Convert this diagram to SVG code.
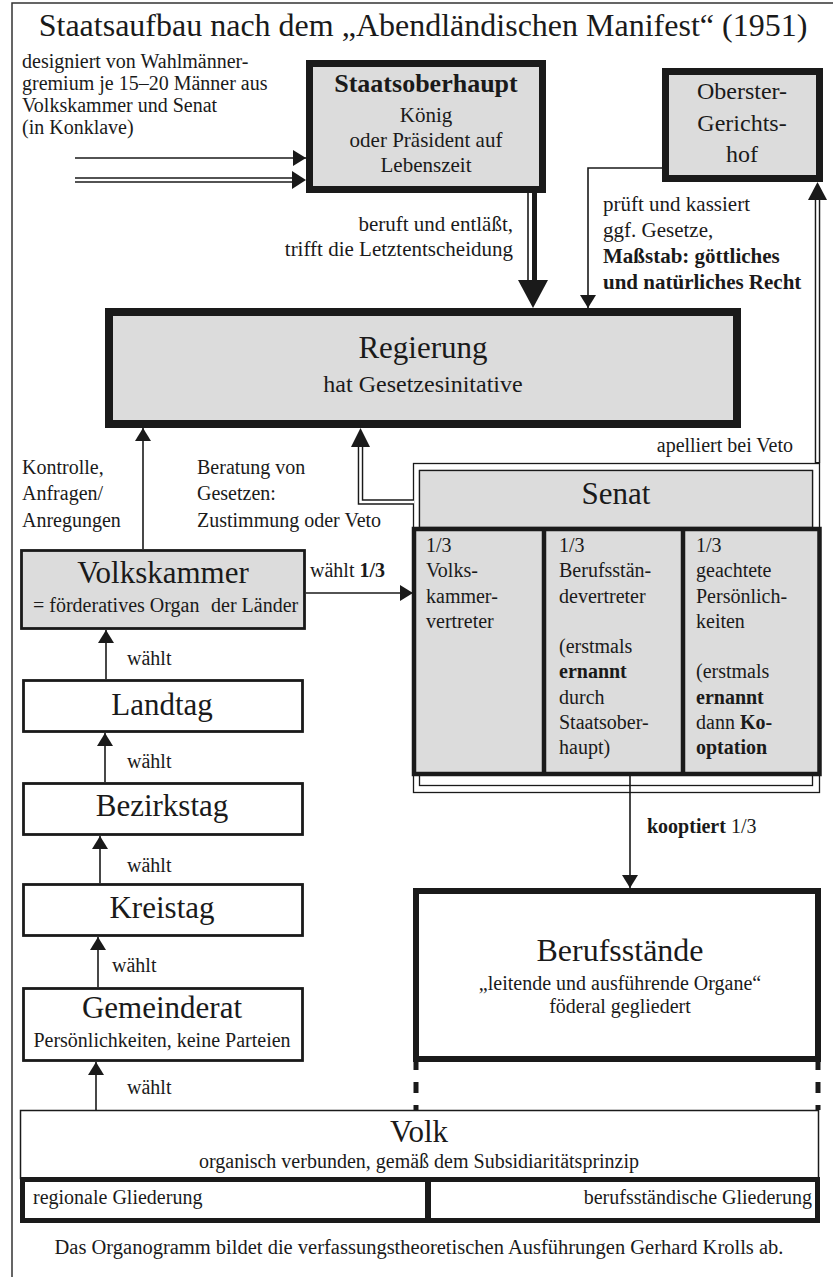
<svg xmlns="http://www.w3.org/2000/svg" width="833" height="1277" viewBox="0 0 833 1277">
<style>
text{font-family:'Liberation Serif','DejaVu Serif',serif;fill:#1a1a1a}
.a{font-size:20px}
.s{font-size:21px}
.n{font-size:31px}
.b{font-weight:bold}
.m{text-anchor:middle}
.e{text-anchor:end}
.ln{stroke:#1a1a1a;fill:none;stroke-width:1.6}
.gray{fill:#dcdcdc}
.box{stroke:#1a1a1a}
.dbl{stroke:#1a1a1a;stroke-width:5.5;fill:none}
.dblw{stroke:#fff;stroke-width:2.6;fill:none}
.ah{fill:#1a1a1a}
</style>
<defs>
<marker id="arr" viewBox="0 0 13 16" refX="13" refY="8" markerWidth="13" markerHeight="16" markerUnits="userSpaceOnUse" orient="auto">
<path d="M0,0 L13,8 L0,16 z" fill="#1a1a1a"/>
</marker>
</defs>
<rect width="833" height="1277" fill="#fff"/>
<path d="M12,1277 V3 H833" stroke="#333" stroke-width="1.5" fill="none"/>
<g font-family="Liberation Serif, DejaVu Serif, serif">
<text x="423" y="36" class="m" font-size="32">Staatsaufbau nach dem „Abendländischen Manifest“ (1951)</text>

<g id="wahl-text">
<text x="22" y="68" class="a">designiert von Wahlmänner-</text>
<text x="22" y="90" class="a">gremium je 15–20 Männer aus</text>
<text x="22" y="112" class="a">Volkskammer und Senat</text>
<text x="22" y="134" class="a">(in Konklave)</text>
</g>

<g id="staatsoberhaupt">
<rect x="309.5" y="63.5" width="233" height="126" class="gray box" stroke-width="7"/>
<text x="426" y="92" class="m b" font-size="26">Staatsoberhaupt</text>
<text x="426" y="122" class="m s">König</text>
<text x="426" y="147" class="m s">oder Präsident auf</text>
<text x="426" y="172" class="m s">Lebenszeit</text>
</g>

<g id="gerichtshof">
<rect x="665.5" y="71.5" width="154" height="107" class="gray box" stroke-width="7"/>
<text x="742" y="99" class="m" font-size="24">Oberster-</text>
<text x="742" y="130.5" class="m" font-size="24">Gerichts-</text>
<text x="742" y="162" class="m" font-size="24">hof</text>
</g>

<g id="regierung">
<rect x="109" y="312" width="628" height="112" class="gray box" stroke-width="8"/>
<text x="423" y="358" class="m n">Regierung</text>
<text x="423" y="392" class="m" font-size="24">hat Gesetzesinitative</text>
</g>

<g id="senat">
<rect x="413.5" y="463.5" width="406" height="329" fill="#fff" class="box" stroke-width="1.3"/>
<rect x="419.5" y="470.5" width="393" height="315" fill="none" class="box" stroke-width="1.3"/>
<rect x="419.5" y="470.5" width="393" height="57" class="gray box" stroke-width="1.3"/>
<text x="616" y="504" class="m n">Senat</text>
<rect x="414" y="529" width="405.5" height="245" class="gray box" stroke-width="4.5"/>
<line x1="544" y1="529" x2="544" y2="774" class="box" stroke-width="4.5"/>
<line x1="683" y1="529" x2="683" y2="774" class="box" stroke-width="4.5"/>
<g class="a">
<text x="426" y="552">1/3</text>
<text x="426" y="577">Volks-</text>
<text x="426" y="602.5">kammer-</text>
<text x="426" y="628">vertreter</text>
<text x="559" y="552">1/3</text>
<text x="559" y="577">Berufsstän-</text>
<text x="559" y="602.5">devertreter</text>
<text x="559" y="653">(erstmals</text>
<text x="559" y="678" class="b">ernannt</text>
<text x="559" y="703.5">durch</text>
<text x="559" y="729">Staatsober-</text>
<text x="559" y="754">haupt)</text>
<text x="696" y="552">1/3</text>
<text x="696" y="577">geachtete</text>
<text x="696" y="602.5">Persönlich-</text>
<text x="696" y="628">keiten</text>
<text x="696" y="678">(erstmals</text>
<text x="696" y="703.5" class="b">ernannt</text>
<text x="696" y="729">dann <tspan class="b">Ko-</tspan></text>
<text x="696" y="754" class="b">optation</text>
</g>
</g>

<g id="volkskammer">
<rect x="21.5" y="550.5" width="283" height="78" class="gray box" stroke-width="2.8"/>
<text x="163" y="583" class="m n">Volkskammer</text>
<text x="33" y="612" class="a">= förderatives Organ</text>
<text x="211" y="612" class="a">der Länder</text>
</g>

<g id="landtag">
<rect x="23.5" y="680.5" width="279" height="51" fill="#fff" class="box" stroke-width="2.8"/>
<text x="162" y="715" class="m n">Landtag</text>
</g>
<g id="bezirkstag">
<rect x="23.5" y="783.5" width="279" height="51" fill="#fff" class="box" stroke-width="2.8"/>
<text x="162" y="816" class="m n">Bezirkstag</text>
</g>
<g id="kreistag">
<rect x="23.5" y="884.5" width="279" height="51" fill="#fff" class="box" stroke-width="2.8"/>
<text x="162" y="918" class="m n">Kreistag</text>
</g>
<g id="gemeinderat">
<rect x="23.5" y="988.5" width="279" height="72" fill="#fff" class="box" stroke-width="2.8"/>
<text x="162" y="1018" class="m n">Gemeinderat</text>
<text x="162" y="1047" class="m a">Persönlichkeiten, keine Parteien</text>
</g>

<g id="berufsstaende">
<rect x="416" y="891" width="402" height="168" fill="#fff" class="box" stroke-width="6"/>
<text x="620" y="961" class="m" font-size="32">Berufsstände</text>
<text x="620" y="990" class="m a">„leitende und ausführende Organe“</text>
<text x="620" y="1013" class="m a">föderal gegliedert</text>
</g>

<g id="volk">
<rect x="20.5" y="1110.5" width="798" height="68" fill="#fff" class="box" stroke-width="1.5"/>
<text x="419" y="1142" class="m n">Volk</text>
<text x="419" y="1168" class="m a">organisch verbunden, gemäß dem Subsidiaritätsprinzip</text>
<rect x="22.5" y="1179.5" width="795" height="41" fill="#fff" class="box" stroke-width="5"/>
<line x1="428" y1="1179" x2="428" y2="1221" class="box" stroke-width="6"/>
<text x="33" y="1204" class="a">regionale Gliederung</text>
<text x="812" y="1204" class="a e">berufsständische Gliederung</text>
</g>

<text x="419" y="1254" class="m" font-size="20.5">Das Organogramm bildet die verfassungstheoretischen Ausführungen Gerhard Krolls ab.</text>

<g id="connectors">
<line x1="75" y1="158" x2="306" y2="158" class="ln" marker-end="url(#arr)"/>
<line x1="75" y1="180" x2="294" y2="180" class="dbl" stroke-width="4.5"/>
<line x1="75" y1="180" x2="294" y2="180" class="dblw" stroke-width="1.8"/>
<polygon points="292,171 306,180 292,189" class="ah"/>

<line x1="528" y1="193" x2="528" y2="282" class="ln" stroke-width="1.4"/>
<rect x="532" y="193" width="5" height="89" class="ah"/>
<polygon points="518,280 548,280 533,308" class="ah"/>
<text x="513" y="231" class="s e">beruft und entläßt,</text>
<text x="513" y="256" class="s e">trifft die Letztentscheidung</text>

<path d="M662,168 H588 V308" class="ln" stroke-width="1.8" marker-end="url(#arr)"/>
<text x="603" y="211" class="s">prüft und kassiert</text>
<text x="603" y="237" class="s">ggf. Gesetze,</text>
<text x="603" y="263" class="s b">Maßstab: göttliches</text>
<text x="603" y="289" class="s b">und natürliches Recht</text>

<path d="M817.5,463 V199" class="dbl" stroke-width="5"/>
<path d="M817.5,462 V198" class="dblw"/>
<polygon points="808,200 827,200 817.5,182" class="ah"/>
<text x="793" y="452" class="a e">apelliert bei Veto</text>

<path d="M413,502 H360.5 V446" class="dbl" stroke-width="5.5"/>
<path d="M414,502 H360.5 V445" class="dblw"/>
<polygon points="351,447 370,447 360.5,428" class="ah"/>

<line x1="143" y1="549" x2="143" y2="428" class="ln" marker-end="url(#arr)"/>
<text x="22" y="474" class="a">Kontrolle,</text>
<text x="22" y="500" class="a">Anfragen/</text>
<text x="22" y="527" class="a">Anregungen</text>
<text x="197" y="474" class="a">Beratung von</text>
<text x="197" y="500" class="a">Gesetzen:</text>
<text x="197" y="527" class="a">Zustimmung oder Veto</text>

<line x1="306" y1="593" x2="413" y2="593" class="ln" marker-end="url(#arr)"/>
<text x="310" y="577" class="a">wählt <tspan class="b">1/3</tspan></text>

<line x1="106" y1="679" x2="106" y2="630" class="ln" marker-end="url(#arr)"/>
<text x="127" y="665" class="a">wählt</text>
<line x1="105" y1="782" x2="105" y2="733" class="ln" marker-end="url(#arr)"/>
<text x="127" y="768" class="a">wählt</text>
<line x1="100" y1="883" x2="100" y2="836" class="ln" marker-end="url(#arr)"/>
<text x="127" y="872" class="a">wählt</text>
<line x1="98" y1="987" x2="98" y2="937" class="ln" marker-end="url(#arr)"/>
<text x="112" y="972" class="a">wählt</text>
<line x1="96" y1="1110" x2="96" y2="1062" class="ln" marker-end="url(#arr)"/>
<text x="127" y="1094" class="a">wählt</text>

<line x1="630" y1="776" x2="630" y2="888" class="ln" marker-end="url(#arr)"/>
<text x="647" y="833" class="a"><tspan class="b">kooptiert</tspan> 1/3</text>

<line x1="416" y1="1059" x2="416" y2="1110" class="box" stroke-width="5" stroke-dasharray="11 12"/>
<line x1="818" y1="1059" x2="818" y2="1110" class="box" stroke-width="5" stroke-dasharray="11 12"/>
</g>
</g>
</svg>
